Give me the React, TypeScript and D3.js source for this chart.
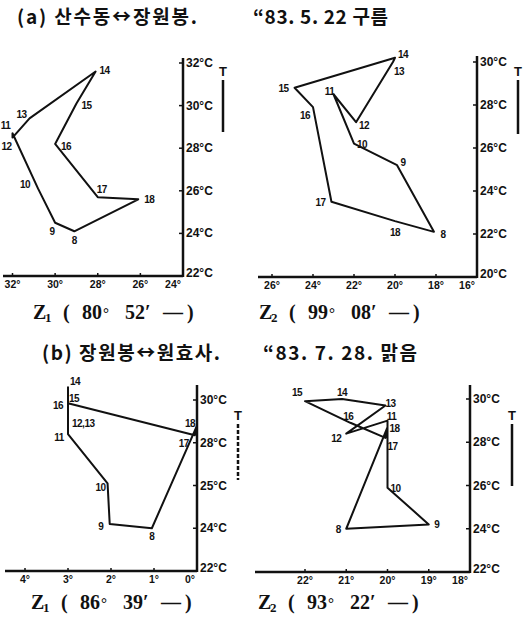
import React from "react";
import * as d3 from "d3";

const W = 524;
const H = 619;

// hours along each loop (8 h ... 18 h)
const hours = ["8", "9", "10", "11", "12", "13", "14", "15", "16", "17", "18"];

// (a) 1983.5.22, Z1 angle in degrees and temperature in °C
const a1Angle = [29.1, 30.0, 30.8, 32.0, 32.0, 31.2, 28.1, 29.0, 30.0, 28.0, 26.1];
const a1Temp = [24.1, 24.5, 26.1, 28.7, 28.5, 29.4, 31.6, 30.1, 28.2, 25.7, 25.6];
// (a) Z2
const a2Angle = [18.1, 19.9, 22.0, 23.0, 21.9, 20.1, 20.0, 24.9, 24.0, 23.1, 20.0];
const a2Temp = [22.1, 25.2, 26.2, 28.5, 27.2, 30.0, 30.2, 28.8, 27.9, 23.5, 22.6];
// (b) 1983.7.28, Z1
const b1Angle = [1.05, 2.03, 2.08, 3.0, 3.0, 3.0, 3.0, 3.0, 3.0, 0.05, 0.0];
const b1Temp = [24.0, 24.2, 26.1, 28.4, 28.9, 28.9, 30.6, 30.05, 29.85, 28.35, 28.8];
const b1Labels = ["8", "9", "10", "11", "12,13", "", "14", "15", "16", "17", "18"];
// (b) Z2
const b2Angle = [21.0, 19.0, 20.0, 20.0, 21.0, 20.05, 21.1, 22.0, 20.9, 20.05, 20.0];
const b2Temp = [24.0, 24.2, 25.9, 29.0, 28.4, 29.7, 30.0, 29.9, 28.9, 28.2, 28.7];

// tick values / labels
const a1XTicks = [32, 30, 28, 26, 24];
const a1XLabels = ["32°", "30°", "28°", "26°", "24°"];
const a1YTicks = [22, 24, 26, 28, 30, 32];
const a1YLabels = ["22°C", "24°C", "26°C", "28°C", "30°C", "32°C"];
const a2XTicks = [26, 24, 22, 20, 18, 16];
const a2XLabels = ["26°", "24°", "22°", "20°", "18°", "16°"];
const a2YTicks = [20, 22, 24, 26, 28, 30];
const a2YLabels = ["20°C", "22°C", "24°C", "26°C", "28°C", "30°C"];
const b1XTicks = [4, 3, 2, 1, 0];
const b1XLabels = ["4°", "3°", "2°", "1°", "0°"];
const b1YTicks = [22, 24, 26, 28, 30];
const b1YLabels = ["22°C", "24°C", "25°C", "28°C", "30°C"];
const b2XTicks = [22, 21, 20, 19, 18];
const b2XLabels = ["22°", "21°", "20°", "19°", "18°"];
const b2YTicks = [22, 24, 26, 28, 30];
const b2YLabels = ["22°C", "24°C", "26°C", "28°C", "30°C"];

// label offsets [dx, dy, anchor]
const a1Off: [number, number, string][] = [
  [0, 13, "middle"], [-3, 12, "middle"], [-13, -1, "middle"], [-7, -4, "middle"],
  [-6, 12, "middle"], [-8, 0, "middle"], [9, 2, "middle"], [10, 6, "middle"],
  [11, 6, "middle"], [4, -4, "middle"], [11, 4, "middle"],
];
const a2Off: [number, number, string][] = [
  [9, 6, "middle"], [6, 1, "middle"], [8, 4, "middle"], [-4, 1, "middle"],
  [8, 7, "middle"], [6, 13, "middle"], [8, 0, "middle"], [-11, 4, "middle"],
  [-8, 12, "middle"], [-11, 4, "middle"], [0, 15, "middle"],
];
const b1Off: [number, number, string][] = [
  [0, 12, "middle"], [-9, 6, "middle"], [-7, 8, "middle"], [-9, 7, "middle"],
  [4, 3, "start"], [0, 0, "start"], [2, -2, "start"], [1, 3, "start"],
  [-10, 6, "middle"], [-11, 12, "middle"], [-7, 1, "middle"],
];
const b2Off: [number, number, string][] = [
  [-8, 4, "middle"], [8, 4, "middle"], [8, 4, "middle"], [4, -1, "middle"],
  [-10, 8, "middle"], [5, 2, "middle"], [0, -3, "middle"], [-8, -5, "middle"],
  [-2, -3, "middle"], [7, 12, "middle"], [7, 5, "middle"],
];

// caption glyph offsets from the caption's left edge
const capOffsets = [0, 12, 30, 49, 70, 92, 112, 130, 154];

const labelFont = "'Liberation Sans', Arial, sans-serif";
const textFont = "'Noto Sans CJK KR', sans-serif";
const capFont = "'Liberation Serif', serif";

type PanelProps = {
  angle: number[];
  temp: number[];
  labels: string[];
  off: [number, number, string][];
  xDomain: [number, number];
  xRange: [number, number];
  yDomain: [number, number];
  yRange: [number, number];
  xTicks: number[];
  xLabels: string[];
  yTicks: number[];
  yLabels: string[];
  axisLeft: number;
  axisTop: number;
  tX: number;
  tY: number;
  tLen: number;
  dashedT?: boolean;
};

function Panel(p: PanelProps) {
  const x = d3.scaleLinear().domain(p.xDomain).range(p.xRange);
  const y = d3.scaleLinear().domain(p.yDomain).range(p.yRange);
  const pts = p.angle.map((a, i) => [x(a), y(p.temp[i])] as [number, number]);
  const line = d3.line().curve(d3.curveLinearClosed);
  const ax = p.xRange[0];
  const ay = p.yRange[0];
  const last = p.xTicks.length - 1;
  return (
    <g>
      <path d={line(pts) || ""} fill="none" stroke="#111" strokeWidth={2} strokeLinejoin="round" />
      {/* axes */}
      <line x1={p.axisLeft} x2={ax} y1={ay} y2={ay} stroke="#111" strokeWidth={2.5} />
      <line x1={ax} x2={ax} y1={p.axisTop} y2={ay + 1} stroke="#111" strokeWidth={2.5} />
      {p.xTicks.map((t, i) => (
        <g key={"x" + i}>
          <line x1={x(t)} x2={x(t)} y1={ay - 3} y2={ay} stroke="#111" strokeWidth={1.5} />
          <text x={i === last ? x(t) - 2 : x(t)} y={ay + 12} fontSize={10.5} fontWeight="bold"
            fontFamily={labelFont} textAnchor={i === last ? "end" : "middle"} fill="#111">
            {p.xLabels[i]}
          </text>
        </g>
      ))}
      {p.yTicks.map((t, i) => (
        <g key={"y" + i}>
          <line x1={ax - 4} x2={ax} y1={y(t)} y2={y(t)} stroke="#111" strokeWidth={1.5} />
          <text x={ax + 3} y={y(t) + (i === 0 ? 1 : 4)} fontSize={12} fontWeight="bold" fontFamily={labelFont} fill="#111">
            {p.yLabels[i]}
          </text>
        </g>
      ))}
      {pts.map((d, i) => (
        <text key={"l" + i} x={d[0] + p.off[i][0]} y={d[1] + p.off[i][1]} fontSize={10} fontWeight="bold"
          fontFamily={labelFont} textAnchor={p.off[i][2]} fill="#111" letterSpacing={-0.5}>
          {p.labels[i]}
        </text>
      ))}
      <text x={p.tX} y={p.tY} fontSize={13} fontWeight="bold" fontFamily={labelFont} textAnchor="middle" fill="#111">T</text>
      <line x1={p.tX} x2={p.tX} y1={p.tY + 4} y2={p.tY + 4 + p.tLen} stroke="#111" strokeWidth={2.5}
        strokeDasharray={p.dashedT ? "4 2" : undefined} />
    </g>
  );
}

function Caption({ x, y, sub, deg, min }: { x: number; y: number; sub: string; deg: string; min: string }) {
  const parts = ["Z", sub, "(", deg, "°", min, "′", "—", ")"];
  return (
    <g fontWeight="bold" fontFamily={capFont} fill="#111">
      {parts.map((s, i) => (
        <text key={i} x={x + capOffsets[i]} y={i === 1 ? y + 3 : i === 4 ? y - 1 : y}
          fontSize={i === 1 ? 13 : i === 4 ? 15 : 20}>
          {s}
        </text>
      ))}
    </g>
  );
}

function Title({ x, y, len, children }: { x: number; y: number; len: number; children: string }) {
  return (
    <text x={x} y={y} fontSize={19} fontWeight="bold" fontFamily={textFont} fill="#111"
      textLength={len} lengthAdjust="spacing">
      {children}
    </text>
  );
}

export default function App() {
  return (
    <svg width={W} height={H} style={{ position: "absolute", left: 0, top: 0, background: "#fff" }}>
      <rect width={W} height={H} fill="#fff" />
      <Title x={17} y={24} len={180}>(a) 산수동↔장원봉.</Title>
      <Title x={253} y={24} len={135}>“83. 5. 22 구름</Title>

      <Panel angle={a1Angle} temp={a1Temp} labels={hours} off={a1Off}
        xDomain={[24, 32]} xRange={[183, 12.5]} yDomain={[22, 32]} yRange={[276, 63]}
        xTicks={a1XTicks} xLabels={a1XLabels} yTicks={a1YTicks} yLabels={a1YLabels}
        axisLeft={3} axisTop={58} tX={223} tY={76} tLen={52} />
      <Panel angle={a2Angle} temp={a2Temp} labels={hours} off={a2Off}
        xDomain={[16, 26]} xRange={[477, 272]} yDomain={[20, 30]} yRange={[277, 62]}
        xTicks={a2XTicks} xLabels={a2XLabels} yTicks={a2YTicks} yLabels={a2YLabels}
        axisLeft={258} axisTop={56} tX={518} tY={76} tLen={54} />

      <Caption x={33} y={319} sub="1" deg="80" min="52" />
      <Caption x={259} y={319} sub="2" deg="99" min="08" />

      <Title x={42} y={360} len={178}>(b) 장원봉↔원효사.</Title>
      <Title x={263} y={360} len={154}>“83. 7. 28. 맑음</Title>

      <Panel angle={b1Angle} temp={b1Temp} labels={b1Labels} off={b1Off}
        xDomain={[0, 4]} xRange={[197, 25]} yDomain={[22, 30]} yRange={[571, 400]}
        xTicks={b1XTicks} xLabels={b1XLabels} yTicks={b1YTicks} yLabels={b1YLabels}
        axisLeft={5} axisTop={385} tX={238} tY={420} tLen={56} dashedT />
      <Panel angle={b2Angle} temp={b2Temp} labels={hours} off={b2Off}
        xDomain={[18, 22]} xRange={[470, 305]} yDomain={[22, 30]} yRange={[572, 399]}
        xTicks={b2XTicks} xLabels={b2XLabels} yTicks={b2YTicks} yLabels={b2YLabels}
        axisLeft={255} axisTop={385} tX={512} tY={420} tLen={62} />

      <Caption x={31} y={609} sub="1" deg="86" min="39" />
      <Caption x={258} y={609} sub="2" deg="93" min="22" />
    </svg>
  );
}
